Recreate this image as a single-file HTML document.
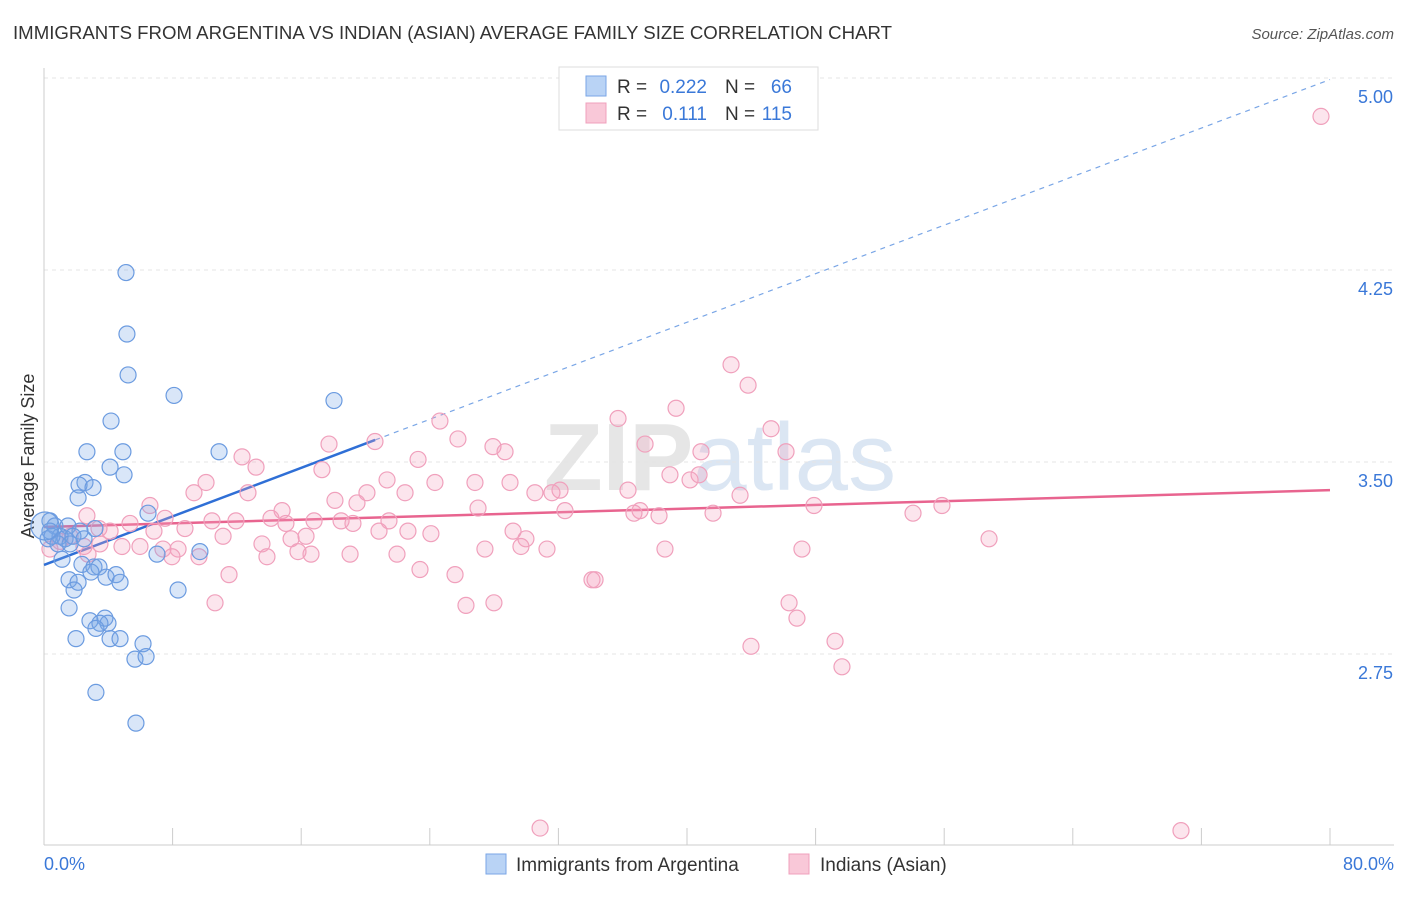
<!DOCTYPE html>
<html><head><meta charset="utf-8"><style>
body{margin:0;background:#fff;font-family:"Liberation Sans",sans-serif;}
</style></head><body>
<svg id="chart" width="1406" height="892" xmlns="http://www.w3.org/2000/svg" font-family="Liberation Sans, sans-serif">
<text x="13" y="39" font-size="18" fill="#333" textLength="879" lengthAdjust="spacingAndGlyphs">IMMIGRANTS FROM ARGENTINA VS INDIAN (ASIAN) AVERAGE FAMILY SIZE CORRELATION CHART</text>
<text x="1394" y="39" font-size="15" fill="#555" font-style="italic" text-anchor="end">Source: ZipAtlas.com</text>
<text x="720" y="490" font-size="96" fill="#e6e6e6" text-anchor="middle" font-weight="bold">ZIP<tspan fill="#dbe6f3" font-weight="normal">atlas</tspan></text>
<text transform="translate(34,456) rotate(-90)" font-size="18" fill="#333" text-anchor="middle">Average Family Size</text>
<g id="grid"></g><g id="axes"></g><g id="trends"></g><g id="pts"></g>
<g>
<rect x="559" y="67" width="259" height="63" fill="#fff" stroke="#ddd"/>
<rect x="586" y="76" width="20" height="20" fill="#b9d3f5" stroke="#7aa6e6"/>
<rect x="586" y="103" width="20" height="20" fill="#f9c8d8" stroke="#f0a0bc"/>
<text x="617" y="93" font-size="19" fill="#333">R =</text>
<text x="707" y="93" font-size="19" fill="#3a78d8" text-anchor="end">0.222</text>
<text x="725" y="93" font-size="19" fill="#333">N =</text>
<text x="792" y="93" font-size="19" fill="#3a78d8" text-anchor="end">66</text>
<text x="617" y="120" font-size="19" fill="#333">R =</text>
<text x="707" y="120" font-size="19" fill="#3a78d8" text-anchor="end">0.111</text>
<text x="725" y="120" font-size="19" fill="#333">N =</text>
<text x="792" y="120" font-size="19" fill="#3a78d8" text-anchor="end">115</text>
</g>
<g>
<rect x="486" y="854" width="20" height="20" fill="#b9d3f5" stroke="#7aa6e6"/>
<text x="516" y="871" font-size="19" fill="#333">Immigrants from Argentina</text>
<rect x="789" y="854" width="20" height="20" fill="#f9c8d8" stroke="#f0a0bc"/>
<text x="820" y="871" font-size="19" fill="#333">Indians (Asian)</text>
</g>
</svg>
<script>
const blueX=[5.10,5.16,5.23,8.09,18.04,4.17,2.67,4.91,10.89,4.11,4.98,2.55,2.18,3.05,2.12,6.47,0.37,0.68,1.49,2.24,3.17,0.25,1.00,1.31,1.80,2.49,9.70,7.03,1.12,2.36,3.11,3.42,2.92,3.86,4.48,1.56,2.12,4.73,8.34,1.87,1.56,2.86,3.79,3.98,3.48,3.23,4.11,4.73,1.99,6.16,5.66,6.35,3.23,5.72,0.37,0.50,0.87,1.62,0.06];
const blueY=[4.24,4.00,3.84,3.76,3.74,3.66,3.54,3.54,3.54,3.48,3.45,3.42,3.41,3.40,3.36,3.30,3.27,3.25,3.25,3.23,3.24,3.20,3.21,3.20,3.21,3.20,3.15,3.14,3.12,3.10,3.09,3.09,3.07,3.05,3.06,3.04,3.03,3.03,3.00,3.00,2.93,2.88,2.89,2.87,2.87,2.85,2.81,2.81,2.81,2.79,2.73,2.74,2.60,2.48,3.23,3.21,3.18,3.18,3.25];
const pinkX=[79.44,42.74,43.80,39.32,24.63,35.71,20.59,17.73,25.75,27.93,37.39,45.23,28.68,40.87,46.16,12.32,13.19,23.27,17.29,21.34,10.08,24.32,26.81,28.99,32.10,38.94,40.19,40.75,36.33,12.69,9.33,20.09,22.46,30.54,31.60,43.30,6.59,18.10,19.47,27.00,32.41,14.81,55.86,47.90,54.06,37.08,36.70,38.26,41.62,2.67,5.35,7.53,10.45,11.94,14.12,15.05,16.80,18.48,19.22,21.46,8.77,6.84,3.42,4.11,20.84,24.07,22.64,29.18,29.98,11.14,13.56,15.37,16.30,2.49,3.48,4.85,5.97,7.40,8.34,9.64,13.87,15.80,16.61,19.04,21.96,27.43,29.67,31.29,38.63,47.15,58.79,7.96,11.51,23.39,25.57,34.09,34.28,10.64,26.25,27.99,46.35,46.84,49.21,43.98,49.64,30.86,70.73,1.00,1.62,0.37,2.74];
const pinkY=[4.85,3.88,3.80,3.71,3.66,3.67,3.58,3.57,3.59,3.56,3.57,3.63,3.54,3.54,3.54,3.52,3.48,3.51,3.47,3.43,3.42,3.42,3.42,3.42,3.39,3.45,3.43,3.45,3.39,3.38,3.38,3.38,3.38,3.38,3.38,3.37,3.33,3.35,3.34,3.32,3.31,3.31,3.33,3.33,3.30,3.31,3.30,3.29,3.30,3.29,3.26,3.28,3.27,3.27,3.28,3.26,3.27,3.27,3.26,3.27,3.24,3.23,3.24,3.23,3.23,3.22,3.23,3.23,3.20,3.21,3.18,3.20,3.21,3.17,3.18,3.17,3.17,3.16,3.16,3.13,3.13,3.15,3.14,3.14,3.14,3.16,3.17,3.16,3.16,3.16,3.20,3.13,3.06,3.08,3.06,3.04,3.04,2.95,2.94,2.95,2.95,2.89,2.80,2.78,2.70,2.07,2.06,3.19,3.21,3.16,3.14];
const blueTrend=[3.098,0.0237];
const pinkTrend=[3.246,0.0018];
const yTicks=[2.75,3.50,4.25,5.00];
const xTickVals=[0,8,16,24,32,40,48,56,64,72,80];
const blueMaxX=20.6;

const NS='http://www.w3.org/2000/svg';
const sx=v=>44+v*16.075;
const sy=v=>78+(5-v)*256;
function mk(tag,attrs,parent){const e=document.createElementNS(NS,tag);for(const k in attrs)e.setAttribute(k,attrs[k]);document.getElementById(parent).appendChild(e);return e;}
yTicks.forEach(t=>{
  const l=mk('line',{x1:44,x2:1394,y1:sy(t),y2:sy(t),stroke:'#e4e4e4','stroke-dasharray':'4,4'},'grid');
  
  
  const tx=mk('text',{x:1393,y:sy(t)+25,'font-size':18,fill:'#3a78d8','text-anchor':'end'},'grid');
  tx.textContent=t.toFixed(2);
  
  
});
const ax=mk('line',{x1:44,x2:1394,y1:845,y2:845,stroke:'#ccc'},'axes');


const ay=mk('line',{x1:44,x2:44,y1:68,y2:845,stroke:'#ccc'},'axes');


xTickVals.forEach(t=>{
  const l=mk('line',{x1:sx(t),x2:sx(t),y1:828,y2:845,stroke:'#ccc'},'axes');
  
  
});
[[0,'0.0%','start',44],[80,'80.0%','end',1394]].forEach(d=>{
  const tx=mk('text',{x:d[3],y:870,'font-size':18,fill:'#3a78d8','text-anchor':d[2]},'axes');
  tx.textContent=d[1];
  
  
});
const by=x=>blueTrend[0]+blueTrend[1]*x, py=x=>pinkTrend[0]+pinkTrend[1]*x;
const bs=mk('line',{x1:sx(0),y1:sy(by(0)),x2:sx(blueMaxX),y2:sy(by(blueMaxX)),stroke:'#2f6fd6','stroke-width':2.5},'trends');


const bd=mk('line',{x1:sx(blueMaxX),y1:sy(by(blueMaxX)),x2:sx(80),y2:sy(by(80)),stroke:'#7aa6e6','stroke-width':1.2,'stroke-dasharray':'5,5'},'trends');


const pl=mk('line',{x1:sx(0),y1:sy(py(0)),x2:sx(80),y2:sy(py(80)),stroke:'#e8648f','stroke-width':2.5},'trends');


pinkX.forEach((x,i)=>{
  const c=mk('circle',{cx:sx(x),cy:sy(pinkY[i]),r:8,fill:'rgba(244,160,190,0.28)',stroke:'#f0a0bc','stroke-width':1.2},'pts');
  
  
});
blueX.forEach((x,i)=>{
  const c=mk('circle',{cx:sx(x),cy:sy(blueY[i]),r:i===blueX.length-1?14:8,fill:'rgba(120,165,230,0.28)',stroke:'#6b9be0','stroke-width':1.2},'pts');
  
  
});
</script>
</body></html>
